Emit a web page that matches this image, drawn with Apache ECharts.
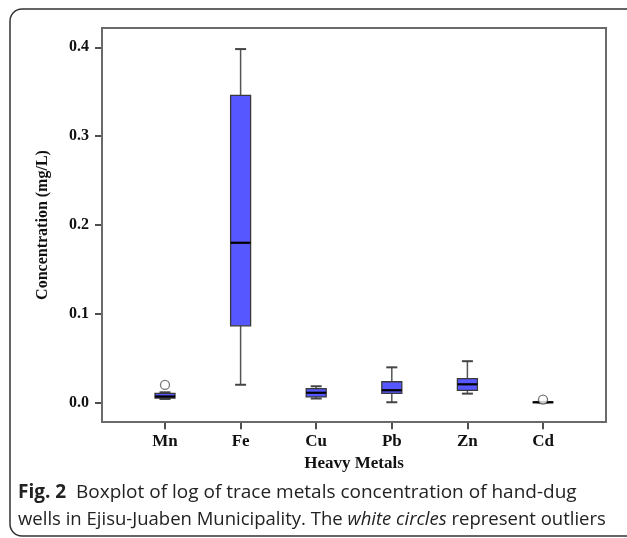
<!DOCTYPE html>
<html>
<head>
<meta charset="utf-8">
<script src="https://cdn.jsdelivr.net/npm/echarts@6/dist/echarts.min.js"></script>
<style>
html,body{margin:0;padding:0;background:#fff;}
#c{width:627px;height:538px;}
</style>
</head>
<body>
<div id="c"></div>
<script>
const categories = ['Mn', 'Fe', 'Cu', 'Pb', 'Zn', 'Cd'];
const lowWhisker  = [0.0042, 0.0202, 0.0047, 0.0005, 0.0102, 0.0002];
const q1          = [0.0053, 0.0865, 0.0065, 0.0104, 0.0138, 0.0003];
const median      = [0.0070, 0.1800, 0.0112, 0.0140, 0.0207, 0.0005];
const q3          = [0.0104, 0.3460, 0.0158, 0.0236, 0.0272, 0.0007];
const highWhisker = [0.0117, 0.3980, 0.0185, 0.0398, 0.0467, 0.0009];
const outlierCat  = [0, 5];
const outlierVal  = [0.0200, 0.0035];

const boxData = categories.map((c, i) => [i, lowWhisker[i], q1[i], median[i], q3[i], highWhisker[i]]);
const outlierData = outlierCat.map((c, i) => [c, outlierVal[i]]);

const serif = '"Liberation Serif", "Times New Roman", serif';

const chart = echarts.init(document.getElementById('c'));
chart.setOption({
  animation: false,
  backgroundColor: '#fff',
  grid: {
    left: 127.2, top: 47.3, width: 453.6, height: 355.4,
    show: false,
    containLabel: false, outerBoundsMode: 'none'
  },
  xAxis: {
    type: 'category',
    data: categories,
    boundaryGap: true,
    offset: 19.6,
    name: 'Heavy Metals',
    nameLocation: 'middle',
    nameGap: 33,
    nameTextStyle: {fontFamily: serif, fontWeight: 'bold', fontSize: 17, color: '#111'},
    axisLine: {show: false, onZero: false},
    splitLine: {show: false},
    axisTick: {show: true, alignWithLabel: true, length: 7, lineStyle: {color: '#222', width: 1.6}},
    axisLabel: {
      interval: 0,
      fontFamily: serif, fontWeight: 'bold', fontSize: 17, color: '#111', margin: 11
    }
  },
  yAxis: {
    type: 'value',
    min: 0, max: 0.4, interval: 0.1,
    offset: 25.2,
    name: 'Concentration (mg/L)',
    nameLocation: 'middle',
    nameGap: 51,
    nameTextStyle: {fontFamily: serif, fontWeight: 'bold', fontSize: 16, color: '#111'},
    axisLine: {show: false, onZero: false},
    splitLine: {show: false},
    axisTick: {show: true, length: 7, lineStyle: {color: '#222', width: 1.6}},
    axisLabel: {
      formatter: v => v.toFixed(1),
      fontFamily: serif, fontWeight: 'bold', fontSize: 16, color: '#111', margin: 13
    }
  },
  graphic: [
    {
      type: 'rect', silent: true, z: 90,
      shape: {x: 102, y: 28, width: 504, height: 394},
      style: {fill: 'none', stroke: '#6a6a6a', lineWidth: 2}
    },
    {
      type: 'rect', silent: true, z: 100,
      shape: {x: 10, y: 9, width: 640, height: 527, r: 12},
      style: {fill: 'none', stroke: '#333', lineWidth: 1.5}
    },
    {
      type: 'text', left: 18, top: 483, z: 100,
      style: {
        text: '{b|Fig. 2}  Boxplot of log of trace metals concentration of hand-dug',
        font: '19px "Open Sans"', fill: '#222',
        rich: {b: {fontWeight: 'bold', fontFamily: 'Open Sans', fontSize: 19, fill: '#222'}}
      }
    },
    {
      type: 'text', left: 18, top: 510, z: 100,
      style: {
        text: 'wells in Ejisu-Juaben Municipality. The {i|white circles} represent outliers',
        font: '18.5px "Open Sans"', fill: '#222',
        rich: {i: {fontStyle: 'italic', fontFamily: 'Open Sans', fontSize: 18.5, fill: '#222'}}
      }
    }
  ],
  series: [
    {
      type: 'custom',
      data: boxData,
      encode: {x: 0, y: [1, 2, 3, 4, 5]},
      clip: false,
      renderItem: function (params, api) {
        const x = api.value(0);
        const pLow = api.coord([x, api.value(1)]);
        const pQ1 = api.coord([x, api.value(2)]);
        const pMed = api.coord([x, api.value(3)]);
        const pQ3 = api.coord([x, api.value(4)]);
        const pHigh = api.coord([x, api.value(5)]);
        const cx = pMed[0];
        const hw = 10, cw = 5.5;
        const whisk = {stroke: '#555', lineWidth: 1.5};
        return {
          type: 'group',
          children: [
            {type: 'line', shape: {x1: cx, y1: pHigh[1], x2: cx, y2: pQ3[1]}, style: whisk},
            {type: 'line', shape: {x1: cx, y1: pQ1[1], x2: cx, y2: pLow[1]}, style: whisk},
            {type: 'line', shape: {x1: cx - cw, y1: pHigh[1], x2: cx + cw, y2: pHigh[1]}, style: {stroke: '#444', lineWidth: 2}},
            {type: 'line', shape: {x1: cx - cw, y1: pLow[1], x2: cx + cw, y2: pLow[1]}, style: {stroke: '#444', lineWidth: 2}},
            {type: 'rect', shape: {x: cx - hw, y: pQ3[1], width: 2 * hw, height: Math.max(pQ1[1] - pQ3[1], 0.5)},
             style: {fill: '#5757ff', stroke: '#3a3a3a', lineWidth: 1.3}},
            {type: 'line', shape: {x1: cx - hw, y1: pMed[1], x2: cx + hw, y2: pMed[1]}, style: {stroke: '#000', lineWidth: 2.2}}
          ]
        };
      },
      z: 2
    },
    {
      type: 'scatter',
      data: outlierData,
      symbol: 'circle',
      symbolSize: 9,
      clip: false,
      itemStyle: {color: '#fff', borderColor: '#555', borderWidth: 1.3},
      z: 3
    }
  ]
});
</script>
</body>
</html>
